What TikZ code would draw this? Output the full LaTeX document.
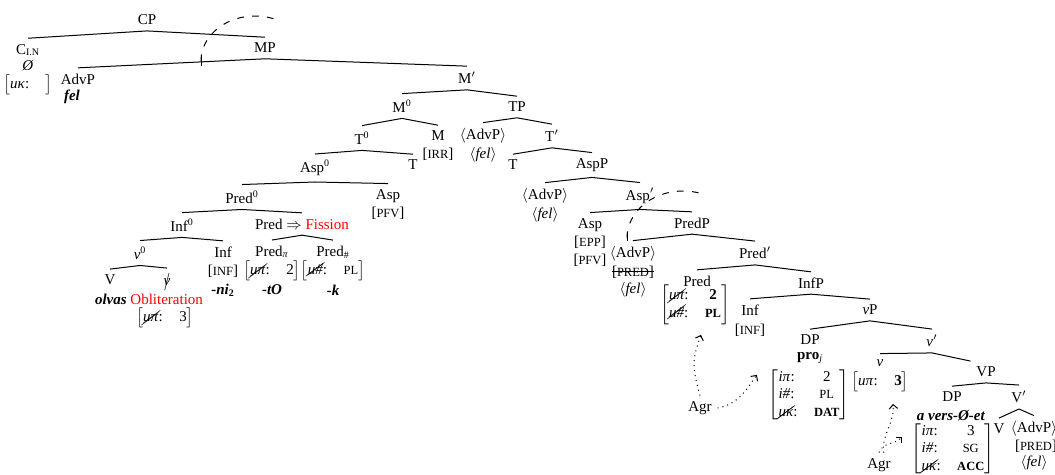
\documentclass[tikz,border=0pt]{standalone}
\usepackage{fontspec}
\setmainfont{Liberation Serif}
\usepackage{cancel}
\usetikzlibrary{arrows.meta}

\newcommand{\fsc}[1]{{\fontsize{7.5pt}{8pt}\selectfont #1}}
\newcommand{\crossed}[1]{$\cancel{\mbox{#1}}$}
\newsavebox{\strikebox}
\newcommand{\struck}[1]{\sbox{\strikebox}{#1}\rlap{\rule[0.28em]{\wd\strikebox}{0.4pt}}\usebox{\strikebox}}
\newcommand{\fmat}[1]{$\left[\begin{tabular}{@{}l@{\hspace{1.1em}}c@{}}#1\end{tabular}\right]$}

\begin{document}
\begin{tikzpicture}[x={(0.6pt,0)}, y={(0,-0.6pt)}, font=\fontsize{9pt}{10.5pt}\selectfont,
  branch/.style={semithick},
  agree/.style={semithick, dash pattern=on 0.6pt off 2.4pt, -{Straight Barb[length=2.5pt,width=5pt]}},
  scopearc/.style={semithick, dash pattern=on 4pt off 5pt}]
  \useasboundingbox (0,0) rectangle (1055,474);

  % left spine
  \node (cp) at (147,20) {CP};
  \node (cin) at (28,50) {C\textsubscript{I.N}};
  \node (cnull) at (28,66) {\textit{Ø}};
  \node (cfeat) at (28,85) {\fmat{\textit{uκ}: & }};
  \node (mp) at (265,48) {MP};
  \node (advpa) at (78,79) {AdvP};
  \node (fela) at (72,97) {\textbf{\textit{fel}}};
  \node (mbar) at (467,78) {M$'$};
  \node (mzero) at (402,106) {M\textsuperscript{0}};
  \node (tp) at (517,107) {TP};
  \node (tzero) at (362,138) {T\textsuperscript{0}};
  \node (mhead) at (438,136) {M};
  \node (irr) at (438,154) {[\fsc{IRR}]};
  \node (aspzero) at (315,168) {Asp\textsuperscript{0}};
  \node (thead) at (413,165) {T};
  \node (predzero) at (242,197) {Pred\textsuperscript{0}};
  \node (asphead) at (388,196) {Asp};
  \node (pfva) at (388,213) {[\fsc{PFV}]};
  \node (infzero) at (182,225) {Inf\textsuperscript{0}};
  \node (fission) at (302,224) {Pred $\Rightarrow$ \textcolor{red}{Fission}};
  \node (vzero) at (140,253) {\textit{v}\textsuperscript{0}};
  \node (infhead) at (223,252) {Inf};
  \node (infa) at (223,271) {[\fsc{INF}]};
  \node (ni) at (223,290) {\textbf{\textit{-ni}\textsubscript{2}}};
  \node (vhead) at (110,280) {V};
  \node (vcross) at (167,280) {\crossed{\textit{v}}};
  \node (oblit) at (149,299) {\textbf{\textit{olvas}} \textcolor{red}{Obliteration}};
  \node (oblitfeat) at (165,318) {\fmat{\crossed{\textit{uπ}}: & 3}};
  \node (predpi) at (272,252) {Pred\textsubscript{\textit{π}}};
  \node (predpifeat) at (272,271) {\fmat{\crossed{\textit{uπ}}: & 2}};
  \node (tO) at (272,290) {\textbf{\textit{-tO}}};
  \node (prednum) at (333,252) {Pred\textsubscript{\#}};
  \node (prednumfeat) at (333,271) {\fmat{\crossed{\textit{u\#}}: & \fsc{PL}}};
  \node (kk) at (333,290) {\textbf{\textit{-k}}};

  % right spine
  \node (advpb) at (483,136) {$\langle$AdvP$\rangle$};
  \node (felb) at (483,155) {$\langle$\textit{fel}$\rangle$};
  \node (tbar) at (552,136) {T$'$};
  \node (tlow) at (513,165) {T};
  \node (aspp) at (592,165) {AspP};
  \node (advpc) at (545,196) {$\langle$AdvP$\rangle$};
  \node (felc) at (545,215) {$\langle$\textit{fel}$\rangle$};
  \node (aspbar) at (640,196) {Asp$'$};
  \node (asplow) at (590,225) {Asp};
  \node (epp) at (590,242) {[\fsc{EPP}]};
  \node (pfvb) at (590,260) {[\fsc{PFV}]};
  \node (predp) at (692,223) {PredP};
  \node (advpd) at (633,254) {$\langle$AdvP$\rangle$};
  \node (preda) at (633,272) {\struck{[\fsc{PRED}]}};
  \node (feld) at (633,290) {$\langle$\textit{fel}$\rangle$};
  \node (predbar) at (755,253) {Pred$'$};
  \node (pred) at (697,281) {Pred};
  \node (predfeat) at (695,305) {\fmat{\crossed{\textit{uπ}}: & \textbf{2}\\ \crossed{\textit{u\#}}: & \textbf{\fsc{PL}}}};
  \node (infp) at (811,283) {InfP};
  \node (inflow) at (750,310) {Inf};
  \node (infb) at (750,330) {[\fsc{INF}]};
  \node (vp) at (870,310) {\textit{v}P};
  \node (dpa) at (810,340) {DP};
  \node (pro) at (810,358) {\textbf{pro}\textsubscript{\textit{j}}};
  \node (dpafeat) at (809,395) {\fmat{\textit{iπ}: & 2\\ \textit{i\#}: & \fsc{PL}\\ \crossed{\textit{uκ}}: & \textbf{\fsc{DAT}}}};
  \node (vbar) at (932,341) {\textit{v}$'$};
  \node (vlow) at (880,363) {\textit{v}};
  \node (vlowfeat) at (880,382) {\fmat{\textit{uπ}: & \textbf{3}}};
  \node (vbigp) at (986,372) {VP};
  \node (dpb) at (952,397) {DP};
  \node (avers) at (951,416) {\textbf{\textit{a vers-Ø-et}}};
  \node (dpbfeat) at (953,449) {\fmat{\textit{iπ}: & 3\\ \textit{i\#}: & \fsc{SG}\\ \crossed{\textit{uκ}}: & \textbf{\fsc{ACC}}}};
  \node (vbigbar) at (1019,397) {V$'$};
  \node (vbig) at (999,429) {V};
  \node (advpe) at (1034,429) {$\langle$AdvP$\rangle$};
  \node (predb) at (1036,446) {[\fsc{PRED}]};
  \node (fele) at (1034,463) {$\langle$\textit{fel}$\rangle$};
  \node (agra) at (700,408) {Agr};
  \node (agrb) at (879,465) {Agr};

  % branches
  \foreach \up/\down in {cp/cin, cp/mp, mp/advpa, mp/mbar, mbar/mzero, mbar/tp,
      mzero/tzero, mzero/mhead, tzero/aspzero, tzero/thead, aspzero/predzero,
      aspzero/asphead, predzero/infzero, predzero/fission, infzero/vzero,
      infzero/infhead, vzero/vhead, vzero/vcross, fission/predpi, fission/prednum,
      tp/advpb, tp/tbar, tbar/tlow, tbar/aspp, aspp/advpc, aspp/aspbar,
      aspbar/asplow, aspbar/predp, predp/advpd, predp/predbar, predbar/pred,
      predbar/infp, infp/inflow, infp/vp, vp/dpa, vp/vbar, vbar/vlow,
      vbigp/dpb, vbigp/vbigbar, vbigbar/vbig, vbigbar/advpe}
    \draw[branch] (\up.south) -- (\down.north);
  \draw[branch] (vbar.south) -- (vbigp.north west);

  % scope arcs
  \draw[branch] (201,56) -- (201,66);
  \draw[scopearc] (201,61) arc[start angle=180, end angle=294, x radius=54, y radius=45];
  \draw[branch] (627,233) -- (627,241);
  \draw[scopearc] (627,238) arc[start angle=180, end angle=292, x radius=56, y radius=47];

  % agreement
  \draw[agree] (agra.north) to[out=105, in=-110, looseness=1.2] ([shift={(6,4)}]predfeat.south);
  \draw[agree] (agra.east) to[out=10, in=-125] ([shift={(-6,12)}]dpafeat.north west);
  \draw[agree] (agrb.70) to[out=95, in=-85] ([shift={(13,6)}]vlowfeat.south);
  \draw[agree] (agrb.north) to[out=70, in=-135] ([shift={(-4,-12)}]dpbfeat.west);
\end{tikzpicture}
\end{document}
